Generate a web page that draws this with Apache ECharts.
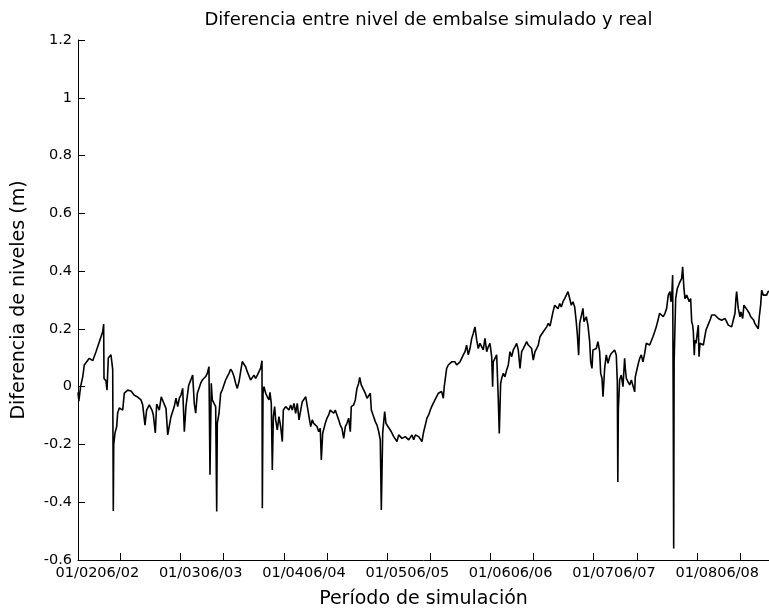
<!DOCTYPE html>
<html>
<head>
<meta charset="utf-8">
<script src="https://cdn.jsdelivr.net/npm/echarts@6/dist/echarts.min.js"></script>
<style>html,body{margin:0;padding:0;background:#fff}#chart{width:769px;height:614px}</style>
</head>
<body>
<div id="chart"></div>
<script>
// x in months from the start of the plotted period
const months = [
0.0,0.1,0.3,0.55,0.73,1.31,1.71,2.09,2.47,2.87,2.98,3.02,3.25,3.37,3.52,3.83,3.95,4.03,4.1,4.15,4.3,4.49,4.61,4.8,5.19,5.38,5.77,6.16,6.54,6.93,7.32,7.51,7.78,7.97,8.28,8.59,8.75,8.98,9.14,9.44,9.67,9.9,10.22,10.42,10.8,11.18,11.38,11.58,11.77,11.96,12.16,12.35,12.54,12.86,13.32,13.51,
13.67,13.86,14.05,14.25,14.44,14.63,14.83,15.02,15.21,15.29,15.33,15.48,15.6,15.8,15.99,16.11,16.18,16.38,16.57,16.76,16.96,17.15,17.34,17.54,17.73,17.92,18.12,18.31,18.5,18.7,18.89,19.08,19.28,19.47,19.66,19.86,20.05,20.24,20.44,20.63,20.83,21.02,21.21,21.37,21.41,21.49,21.6,21.8,21.99,22.18,22.3,22.45,22.57,22.69,22.84,22.96,23.15,23.34,23.54,23.73,23.85,24.12,24.31,24.51,24.7,24.89,25.09,25.28,25.47,25.67,25.87,26.05,26.25,26.45,26.63,26.83,27.03,
27.21,27.37,27.56,27.76,27.96,28.14,28.26,28.42,28.54,28.72,28.92,29.12,29.3,29.5,29.7,29.88,30.08,30.28,30.46,30.66,30.86,31.05,31.24,31.44,31.63,31.74,32.02,32.21,32.4,32.6,32.72,32.9,33.18,33.37,33.57,33.76,33.95,34.07,34.34,34.53,34.73,34.93,35.11,35.23,35.39,35.62,35.77,36.0,36.27,36.47,36.67,36.85,37.05,37.25,37.43,37.63,37.83,38.01,38.41,38.79,38.99,39.18,39.57,39.76,39.95,40.15,40.34,40.53,40.73,40.92,
41.08,41.27,41.46,41.66,41.85,42.04,42.24,42.43,42.54,42.7,42.82,43.01,43.21,43.4,43.59,43.79,43.98,44.17,44.37,44.56,44.75,44.95,45.14,45.33,45.53,45.73,45.91,46.11,46.31,46.49,46.69,46.89,47.07,47.27,47.47,47.65,47.85,48.05,48.16,48.23,48.43,48.63,48.82,48.93,49.09,49.21,49.4,49.59,49.79,49.98,50.17,50.37,50.56,50.75,50.95,51.14,51.34,51.53,51.72,51.92,52.11,52.3,52.5,52.69,52.88,53.08,53.27,53.46,53.66,53.86,54.04,54.24,54.44,54.62,54.82,
54.97,55.17,55.37,55.55,55.75,55.95,56.13,56.33,56.53,56.71,56.91,57.11,57.3,57.49,57.69,57.87,57.99,58.15,58.27,58.46,58.65,58.77,59.04,59.23,59.43,59.55,59.7,59.81,60.01,60.2,60.39,60.59,60.71,60.86,60.98,61.17,61.36,61.56,61.76,61.94,62.14,62.33,62.52,62.64,62.7,62.76,62.91,63.1,63.3,63.49,63.57,63.69,63.88,64.08,64.27,64.46,64.66,64.73,64.85,65.04,65.24,65.43,65.62,65.82,66.0,66.2,66.4,66.59,66.78,66.98,67.17,67.36,67.56,
67.79,67.98,68.18,68.37,68.56,68.76,68.87,68.95,69.07,69.14,69.19,69.24,69.42,69.61,69.73,69.92,70.12,70.23,70.38,70.5,70.7,70.88,71.0,71.16,71.28,71.39,71.47,71.58,71.66,71.78,71.93,72.05,72.13,72.24,72.44,72.63,72.82,72.94,73.09,73.32,73.48,73.6,73.79,73.98,74.18,74.37,74.56,74.76,74.95,75.14,75.34,75.53,75.73,75.92,76.11,76.31,76.42,76.5,76.69,76.89,77.0,77.2,77.35,77.58,77.74,77.97,78.14,78.34,78.49,78.61,78.83,79.01,79.13,79.29,79.41,79.59,79.78,79.98,80.16,80.26
];
// difference between simulated and real reservoir level (m)
const diffs = [
-0.02,-0.05,0.0,0.034,0.075,0.098,0.09,0.121,0.155,0.19,0.217,0.028,0.02,-0.012,0.099,0.11,0.08,0.06,-0.43,-0.2,-0.16,-0.139,-0.09,-0.074,-0.081,-0.022,-0.012,-0.015,-0.03,-0.036,-0.046,-0.063,-0.133,-0.081,-0.063,-0.081,-0.098,-0.16,-0.06,-0.081,-0.035,-0.052,-0.075,-0.167,-0.104,-0.069,-0.04,-0.069,-0.04,-0.029,-0.006,-0.156,-0.069,0.005,0.04,-0.06,
-0.092,-0.023,-0.006,0.012,0.023,0.017,0.035,0.046,0.069,0.075,-0.305,0.012,-0.046,-0.058,-0.069,-0.432,-0.127,-0.092,-0.023,-0.011,-0.011,0.023,0.035,0.046,0.06,0.052,0.035,0.012,-0.006,0.017,0.052,0.087,0.081,0.069,0.052,0.058,0.023,0.029,0.04,0.029,0.04,0.052,0.064,0.09,-0.421,-0.023,0.0,-0.023,-0.035,-0.046,-0.02,-0.058,-0.288,-0.104,-0.069,-0.115,-0.15,-0.104,-0.138,-0.19,-0.081,-0.069,-0.075,-0.081,-0.063,-0.081,-0.058,-0.092,-0.058,-0.115,-0.081,-0.052,-0.046,-0.035,-0.029,-0.104,-0.138,
-0.115,-0.127,-0.133,-0.138,-0.156,-0.144,-0.254,-0.161,-0.156,-0.127,-0.109,-0.098,-0.081,-0.086,-0.092,-0.081,-0.098,-0.115,-0.133,-0.144,-0.179,-0.138,-0.127,-0.109,-0.156,-0.069,-0.063,-0.046,-0.006,0.012,0.032,0.006,-0.011,-0.023,-0.04,-0.046,-0.023,-0.081,-0.104,-0.121,-0.133,-0.156,-0.184,-0.427,-0.161,-0.086,-0.127,-0.138,-0.15,-0.161,-0.173,-0.167,-0.19,-0.167,-0.173,-0.179,-0.184,-0.173,-0.184,-0.167,-0.184,-0.167,-0.173,-0.179,-0.19,-0.156,-0.133,-0.109,-0.098,-0.081,
-0.069,-0.064,-0.046,-0.04,-0.023,-0.029,-0.017,-0.04,0.0,0.006,0.063,0.075,0.081,0.086,0.081,0.086,0.075,0.069,0.086,0.098,0.11,0.121,0.144,0.11,0.132,0.167,0.184,0.207,0.161,0.132,0.15,0.144,0.127,0.167,0.121,0.138,0.15,0.104,0.0,0.086,0.098,0.11,-0.046,-0.162,0.011,0.029,0.046,0.034,0.058,0.075,0.121,0.104,0.127,0.138,0.15,0.127,0.063,0.121,0.132,0.144,0.156,0.144,0.15,0.132,0.092,0.121,0.132,0.144,0.173,0.179,0.19,0.196,0.207,0.219,0.21,
0.23,0.259,0.282,0.276,0.27,0.288,0.276,0.294,0.305,0.311,0.329,0.305,0.282,0.294,0.276,0.225,0.184,0.109,0.219,0.225,0.271,0.225,0.242,0.213,0.156,0.086,0.063,0.127,0.121,0.132,0.156,0.121,0.046,0.029,-0.035,0.063,0.11,0.081,0.104,0.115,0.109,0.127,0.11,0.017,-0.33,-0.08,0.023,0.04,0.0,0.098,0.063,0.029,0.017,0.006,0.023,0.023,-0.018,0.034,0.04,0.075,0.098,0.11,0.086,0.115,0.15,0.156,0.144,0.138,0.173,0.19,0.207,0.23,0.254,
0.254,0.242,0.254,0.271,0.317,0.329,0.294,0.305,0.386,-0.087,-0.56,0.086,0.305,0.34,0.346,0.363,0.375,0.415,0.34,0.305,0.317,0.323,0.294,0.305,0.225,0.213,0.19,0.109,0.161,0.15,0.144,0.213,0.104,0.15,0.144,0.144,0.144,0.196,0.207,0.213,0.236,0.248,0.242,0.248,0.242,0.236,0.236,0.23,0.236,0.236,0.225,0.213,0.219,0.207,0.23,0.254,0.306,0.329,0.271,0.242,0.259,0.236,0.282,0.282,0.265,0.254,0.242,0.248,0.23,0.219,0.213,0.2,0.242,0.282,0.334,0.317,0.311,0.317,0.329,0.33
];
const xTickMonths = [4.9, 11.9, 16.9, 23.9, 28.9, 35.9, 40.9, 47.9, 52.9, 59.9, 64.9, 71.9, 76.9];
const xLabelMonths = [2.25, 14.25, 26.25, 38.25, 50.25, 62.25, 74.25];
const xLabelTexts = ['01/0206/02', '01/0306/03', '01/0406/04', '01/0506/05', '01/0606/06', '01/0706/07', '01/0806/08'];
const titleText = 'Diferencia entre nivel de embalse simulado y real';
const xName = 'Período de simulación';
const yName = 'Diferencia de niveles (m)';

const FONT = 'DejaVu Sans';
const chart = echarts.init(document.getElementById('chart'), null, {renderer: 'canvas'});
const seriesData = months.map((m, i) => [m, diffs[i]]);
chart.setOption({
  animation: false,
  backgroundColor: '#fff',
  title: {
    text: titleText, left: 423.5, textAlign: 'center', top: 6,
    textStyle: {fontFamily: FONT, fontSize: 18, fontWeight: 'normal', color: '#000'}
  },
  grid: {left: 78, right: 0, top: 40, bottom: 54, containLabel: false},
  xAxis: {
    type: 'value', min: 0, max: 80.26,
    name: xName, nameLocation: 'middle', nameGap: 30,
    nameTextStyle: {fontFamily: FONT, fontSize: 19, color: '#000'},
    axisLine: {onZero: false, lineStyle: {color: '#000', width: 1}},
    axisTick: {inside: true, length: 7, customValues: xTickMonths, lineStyle: {color: '#000'}},
    axisLabel: {
      customValues: xLabelMonths, margin: 6, color: '#000', fontFamily: FONT, fontSize: 14.5,
      formatter: function (v) {
        let best = 0;
        for (let i = 1; i < xLabelMonths.length; i++) {
          if (Math.abs(xLabelMonths[i] - v) < Math.abs(xLabelMonths[best] - v)) best = i;
        }
        return xLabelTexts[best];
      }
    },
    splitLine: {show: false}
  },
  yAxis: {
    type: 'value', min: -0.6, max: 1.2, interval: 0.2,
    name: yName, nameLocation: 'middle', nameGap: 49,
    nameTextStyle: {fontFamily: FONT, fontSize: 19, color: '#000'},
    axisLine: {show: true, onZero: false, lineStyle: {color: '#000', width: 1}},
    axisTick: {show: true, inside: true, length: 7, lineStyle: {color: '#000'}},
    axisLabel: {margin: 6, color: '#000', fontFamily: FONT, fontSize: 14.5},
    splitLine: {show: false}
  },
  series: [{
    type: 'line', data: seriesData, showSymbol: false, symbol: 'none',
    lineStyle: {color: '#000', width: 1.6}, sampling: null, clip: true
  }]
});
</script>
</body>
</html>
